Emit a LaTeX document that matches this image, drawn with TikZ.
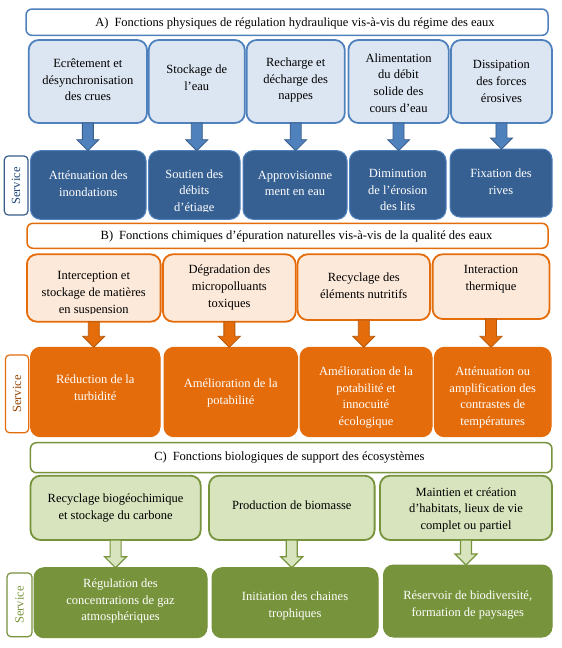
\documentclass[tikz,border=0pt]{standalone}
\usepackage{fontspec}
\setmainfont{Liberation Serif}
\usetikzlibrary{calc}
\definecolor{blueB}{HTML}{4F81BD}
\definecolor{blueL}{HTML}{DCE6F2}
\definecolor{blueD}{HTML}{376092}
\definecolor{blueA}{HTML}{385D8A}
\definecolor{blueT}{HTML}{1F497D}
\definecolor{orB}{HTML}{E46C0A}
\definecolor{orL}{HTML}{FDE9D9}
\definecolor{orA}{HTML}{B65708}
\definecolor{orT}{HTML}{984807}
\definecolor{grB}{HTML}{77933C}
\definecolor{grL}{HTML}{D7E4BD}
\tikzset{
  base/.style={rectangle, rounded corners=10pt, inner sep=0pt, outer sep=0pt},
  txt/.style={font=\fontsize{12.5}{16.7}\selectfont, align=center, inner sep=0pt},
  ttl/.style={base, rounded corners=6pt, fill=white, line width=1.5pt},
  lbl/.style={base, rounded corners=4pt, fill=white, line width=1.2pt},
  fA/.style={base, draw=blueB, fill=blueL, line width=1.8pt},
  fAtxt/.style={txt},
  sA/.style={base, draw=blueB, fill=blueD, line width=1pt},
  sAtxt/.style={txt, text=white},
  lA/.style={lbl, draw=blueA},
  lAtxt/.style={txt, rotate=90, text=blueT},
  fB/.style={base, draw=orB, fill=orL, line width=1.8pt},
  fBtxt/.style={txt},
  sB/.style={base, draw=orB, fill=orB, line width=1pt},
  sBtxt/.style={txt, text=white},
  lB/.style={lbl, draw=orB},
  lBtxt/.style={txt, rotate=90, text=orT},
  fC/.style={base, draw=grB, fill=grL, line width=1.8pt},
  fCtxt/.style={txt},
  sC/.style={base, draw=grB, fill=grB, line width=1pt},
  sCtxt/.style={txt, text=white},
  lC/.style={lbl, draw=grB},
  lCtxt/.style={txt, rotate=90, text=grB},
  blockarrow/.style={to path={let \p1=(\tikztostart), \p2=(\tikztotarget) in
    (\x1-5.5pt,\y1) -- (\x1-5.5pt,\y2+11pt) -- (\x1-11pt,\y2+11pt) -- (\x1,\y2)
    -- (\x1+11pt,\y2+11pt) -- (\x1+5.5pt,\y2+11pt) -- (\x1+5.5pt,\y1) -- cycle}},
  arrA/.style={blockarrow, fill=blueB, draw=blueA, line width=0.8pt},
  arrB/.style={blockarrow, fill=orB, draw=orA, line width=0.8pt},
  arrC/.style={blockarrow, fill=grL, draw=grB, line width=1.2pt},
}
% box with its text
\newcommand\bx[8]{%
  \node[#1, minimum width={#5-#3}, minimum height={#6-#4}] (#2) at ({(#3+#5)/2},{(#4+#6)/2}) {};
  \node[#1txt] (#2t) at ({(#3+#5)/2},#7) {#8};}
% box whose text overflows and is cut at y = #9
\newcommand\bxc[9]{%
  \node[#1, minimum width={#5-#3}, minimum height={#6-#4}] (#2) at ({(#3+#5)/2},{(#4+#6)/2}) {};
  \begin{scope}
    \clip (#3,#4) rectangle (#5,#9);
    \node[#1txt] (#2t) at ({(#3+#5)/2},#7) {#8};
  \end{scope}}
\begin{document}
\begin{tikzpicture}[x=1pt,y=-1pt]
\fill[white] (0,0) rectangle (562,648);
\useasboundingbox (0,0) rectangle (562,648);

% ---------- A ----------
\node[ttl, draw=blueB, minimum width=522, minimum height=26.3] (tA) at (287,22.2) {};
\node[txt] (tAt) at (295,23.5) {A)\hspace{6pt}Fonctions physiques de régulation hydraulique vis-à-vis du régime des eaux};

\bx{fA}{fa1}{28.7}{40}{147}{123}{80}{Ecrêtement et\\désynchronisation\\des crues}
\bx{fA}{fa2}{148.7}{40}{244.8}{123}{78}{Stockage de\\l’eau}
\bx{fA}{fa3}{246.6}{40}{344.8}{123}{80}{Recharge et\\décharge des\\nappes}
\bx{fA}{fa4}{348.4}{40}{448.7}{123}{83}{Alimentation\\du débit\\solide des\\cours d’eau}
\bx{fA}{fa5}{450.9}{40}{552}{123}{81.5}{Dissipation\\des forces\\érosives}

\bx{lA}{la}{4.3}{156}{28}{215}{186}{Service}
\bx{sA}{sa1}{30.5}{150.7}{146}{219.3}{183.5}{Atténuation des\\inondations}
\bxc{sA}{sa2}{148.7}{150.7}{240}{219.3}{192}{Soutien des\\débits\\d’étiage}{211}
\bx{sA}{sa3}{243}{150.7}{347}{219.3}{183.5}{Approvisionne\\ment en eau}
\bx{sA}{sa4}{349.5}{150.7}{446}{219.3}{190}{Diminution\\de l’érosion\\des lits}
\bx{sA}{sa5}{450}{149}{552}{217}{181.5}{Fixation des\\rives}

\draw[arrA] (fa1.south) to (fa1.south |- sa1.north);
\draw[arrA] (fa2.south) to (fa2.south |- sa2.north);
\draw[arrA] (fa3.south) to (fa3.south |- sa3.north);
\draw[arrA] (fa4.south) to (fa4.south |- sa4.north);
\draw[arrA] (fa5.south) to (fa5.south |- sa5.north);

% ---------- B ----------
\node[ttl, draw=orB, minimum width=521, minimum height=25] (tB) at (287.5,235.8) {};
\node[txt] (tBt) at (296.5,236.2) {B)\hspace{6pt}Fonctions chimiques d’épuration naturelles vis-à-vis de la qualité des eaux};

\bxc{fB}{fb1}{26.9}{254.3}{160.6}{321.7}{293.5}{Interception et\\stockage de matières\\en suspension}{313}
\bx{fB}{fb2}{163}{254.3}{295.7}{321.7}{287.5}{Dégradation des\\micropolluants\\toxiques}
\bx{fB}{fb3}{297.5}{254.3}{430}{320}{285.7}{Recyclage des\\éléments nutritifs}
\bx{fB}{fb4}{432.6}{254.3}{549.5}{319}{279}{Interaction\\thermique}

\bx{lB}{lb}{5.4}{355}{28.7}{432.7}{394}{Service}
\bx{sB}{sb1}{30.5}{347.3}{160}{436.7}{387.7}{Réduction de la\\turbidité}
\bx{sB}{sb2}{164}{347.3}{297.5}{436.7}{393}{Amélioration de la\\potabilité}
\bxc{sB}{sb3}{300}{347.3}{432}{436.7}{397.5}{Amélioration de la\\potabilité et\\innocuité\\écologique}{427.5}
\bxc{sB}{sb4}{434.4}{347.3}{551}{436.7}{397.5}{Atténuation ou\\amplification des\\contrastes de\\températures}{427.5}

\draw[arrB] (fb1.south) to (fb1.south |- sb1.north);
\draw[arrB] (fb2.south) to (fb2.south |- sb2.north);
\draw[arrB] (fb3.south) to (fb3.south |- sb3.north);
\draw[arrB] (fb4.south) to (fb4.south |- sb4.north);

% ---------- C ----------
\node[ttl, draw=grB, minimum width=521.5, minimum height=30] (tC) at (291.2,457.7) {};
\node[txt] (tCt) at (289.4,457.3) {C)\hspace{6pt}Fonctions biologiques de support des écosystèmes};

\bx{fC}{fc1}{30.5}{475.7}{200.7}{540}{508}{Recyclage biogéochimique\\et stockage du carbone}
\bx{fC}{fc2}{209}{475.7}{374.6}{540}{505}{Production de biomasse}
\bx{fC}{fc3}{380}{475.7}{552}{540}{509.7}{Maintien et création\\d’habitats, lieux de vie\\complet ou partiel}

\bx{lC}{lc}{7}{573}{32}{636.7}{605}{Service}
\bx{sC}{sc1}{34}{567.7}{207}{637.7}{601}{Régulation des\\concentrations de gaz\\atmosphériques}
\bx{sC}{sc2}{212}{567.7}{378}{637.7}{606}{Initiation des chaines\\trophiques}
\bx{sC}{sc3}{383.5}{565}{552}{637}{605}{Réservoir de biodiversité,\\formation de paysages}

\draw[arrC] (fc1.south) to (fc1.south |- sc1.north);
\draw[arrC] (fc2.south) to (fc2.south |- sc2.north);
\draw[arrC] (fc3.south) to (fc3.south |- sc3.north);
\end{tikzpicture}
\end{document}
